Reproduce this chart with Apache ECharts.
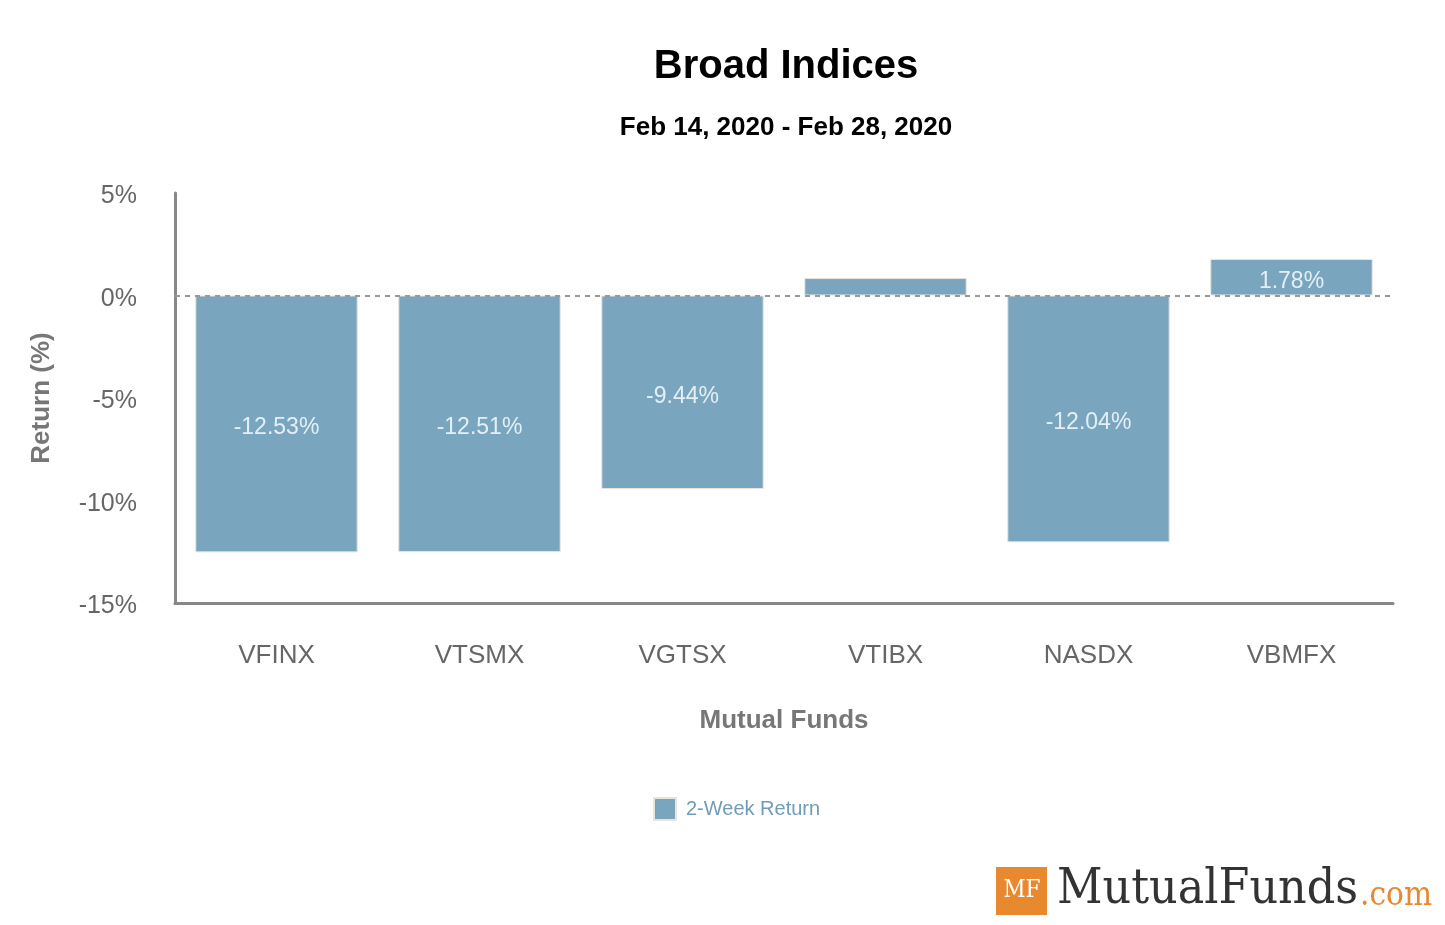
<!DOCTYPE html>
<html>
<head>
<meta charset="utf-8">
<title>Broad Indices</title>
<script src="https://cdn.jsdelivr.net/npm/echarts@6/dist/echarts.min.js"></script>
<style>
  html, body { margin: 0; padding: 0; background: #fff; }
  #chart { width: 1445px; height: 925px; }
</style>
</head>
<body>
<div id="chart"></div>
<script>
// data
const funds = ['VFINX', 'VTSMX', 'VGTSX', 'VTIBX', 'NASDX', 'VBMFX']
const returns = [-12.53, -12.51, -9.44, 0.85, -12.04, 1.78]
const yTicks = [-15, -10, -5, 0, 5]

const barColor = '#79a5bf'
const axisGray = '#888'
const orange = '#e8892f'
const font = 'Liberation Sans, Arial, sans-serif'

// logo text sizing
const ctx = document.createElement('canvas').getContext('2d')
const logoFont = '48px "DejaVu Serif", serif'
const comFont = '34px "DejaVu Serif", serif'
ctx.font = logoFont
const mfW = ctx.measureText('MutualFunds').width
ctx.font = comFont
const comW = ctx.measureText('.com').width
const mfScale = 301 / mfW
const comScale = 72 / comW

const chart = echarts.init(document.getElementById('chart'))

const options = {
  animation: false,
  textStyle: { fontFamily: font },
  title: [
    {
      text: 'Broad Indices',
      left: 781,
      top: 42,
      textAlign: 'center',
      textStyle: { fontSize: 40, fontWeight: 'bold', color: '#000', fontFamily: font }
    },
    {
      text: 'Feb 14, 2020 - Feb 28, 2020',
      left: 781,
      top: 110,
      textAlign: 'center',
      textStyle: { fontSize: 26, fontWeight: 'bold', color: '#000', fontFamily: font }
    }
  ],
  legend: {
    left: 653,
    top: 797,
    padding: 0,
    itemWidth: 22,
    itemHeight: 22,
    icon: 'rect',
    textStyle: { fontSize: 20, color: '#6f9cb8', fontFamily: font, padding: [0, 0, 0, 5] },
    data: ['2-Week Return']
  },
  grid: {
    left: 175,
    right: 52,
    top: 193,
    bottom: 322
  },
  xAxis: {
    type: 'category',
    data: funds,
    name: 'Mutual Funds',
    nameLocation: 'middle',
    nameGap: 105,
    nameTextStyle: { fontSize: 26, fontWeight: 'bold', color: '#777' },
    axisLine: { onZero: false, lineStyle: { color: axisGray, width: 3 } },
    axisTick: { show: false },
    axisLabel: { fontSize: 26, color: '#666', margin: 40 }
  },
  yAxis: {
    type: 'value',
    min: yTicks[0],
    max: yTicks[yTicks.length - 1],
    interval: 5,
    name: 'Return (%)',
    nameLocation: 'middle',
    nameGap: 120,
    nameTextStyle: { fontSize: 26, fontWeight: 'bold', color: '#777' },
    axisLine: { show: true, lineStyle: { color: axisGray, width: 3 } },
    axisTick: { show: false },
    splitLine: { show: false },
    axisLabel: {
      fontSize: 25,
      color: '#666',
      margin: 38,
      verticalAlign: 'top',
      lineHeight: 7,
      formatter: '{value}%'
    }
  },
  series: [
    {
      name: '2-Week Return',
      type: 'bar',
      barCategoryGap: '20%',
      data: returns.map(v => ({
        value: v,
        label: { show: Math.abs(v) >= 1 }
      })),
      itemStyle: {
        color: barColor,
        borderColor: '#e9e4dc',
        borderWidth: 1
      },
      label: {
        position: 'inside',
        fontSize: 23,
        color: '#e4eff5',
        offset: [0, 4],
        formatter: p => p.value.toFixed(2) + '%'
      },
      markLine: {
        silent: true,
        symbol: 'none',
        label: { show: false },
        lineStyle: { color: '#999', type: [5, 5], width: 2 },
        data: [{ yAxis: 0 }]
      }
    }
  ],
  graphic: [
    {
      type: 'rect',
      left: 996,
      top: 867,
      shape: { width: 51, height: 48 },
      style: { fill: orange }
    },
    {
      type: 'text',
      x: 1022,
      y: 891,
      scaleX: 0.9,
      style: {
        text: 'MF',
        fill: '#fff',
        font: '24px "DejaVu Serif", serif',
        align: 'center',
        verticalAlign: 'middle'
      }
    },
    {
      type: 'text',
      x: 1057,
      y: 891,
      scaleX: mfScale,
      style: {
        text: 'MutualFunds',
        fill: '#333',
        font: logoFont,
        verticalAlign: 'middle'
      }
    },
    {
      type: 'text',
      x: 1360,
      y: 896,
      scaleX: comScale,
      style: {
        text: '.com',
        fill: orange,
        font: comFont,
        verticalAlign: 'middle'
      }
    }
  ]
}

chart.setOption(options)
</script>
</body>
</html>
